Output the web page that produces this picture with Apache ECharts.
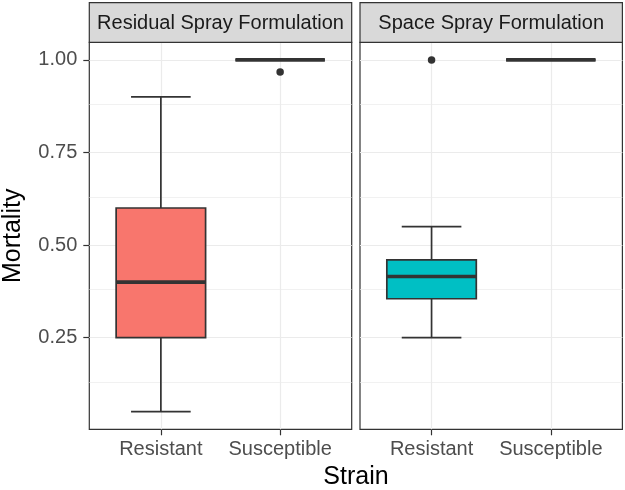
<!DOCTYPE html>
<html>
<head>
<meta charset="utf-8">
<script src="https://cdn.jsdelivr.net/npm/echarts@6/dist/echarts.min.js"></script>
<style>
  html, body { margin: 0; padding: 0; background: #fff; }
  #chart { width: 625px; height: 490px; }
</style>
</head>
<body>
<div id="chart"></div>
<script>
// 数据
const strains = ['Resistant', 'Susceptible'];
const formulations = ['Residual Spray Formulation', 'Space Spray Formulation'];
// [min, Q1, median, Q3, max] per strain
const residualStats = [[0.05, 0.25, 0.40, 0.60, 0.90], [1.0, 1.0, 1.0, 1.0, 1.0]];
const spaceStats = [[0.25, 0.355, 0.415, 0.46, 0.55], [1.0, 1.0, 1.0, 1.0, 1.0]];
// [strain position, value]
const residualOutliers = [[2, 0.967]];
const spaceOutliers = [[1, 1.0]];
const fillColors = ['#F8766D', '#00BFC4'];
const yTicks = [0.25, 0.50, 0.75, 1.00];
const yMinor = [0.125, 0.375, 0.625, 0.875];
const xTicks = [1, 2];

// 面板布局
const panelTop = 42.3, panelBottom = 429.3;
const panelW = 262.4;
const panelLefts = [89.3, 360.0];
const edge = '#333333';
const font = '"Liberation Sans", Arial, sans-serif';

// y 范围: 数据范围扩展 5%
const yLo = 0.05, yHi = 1.0;
const yPad = (yHi - yLo) * 0.05;

function makeRenderer(fill) {
    return function (params, api) {
        const x = api.value(0);
        const pt = v => api.coord([x, v]);
        const lo = pt(api.value(1)), q1 = pt(api.value(2)), med = pt(api.value(3)),
              q3 = pt(api.value(4)), hi = pt(api.value(5));
        const boxW = api.size([0.75, 0])[0];
        const capW = api.size([0.5, 0])[0];
        const cx = lo[0];
        const ls = { stroke: edge, lineWidth: 1.7 };
        return {
            type: 'group',
            children: [
                { type: 'line', shape: { x1: cx, y1: q1[1], x2: cx, y2: lo[1] }, style: ls },
                { type: 'line', shape: { x1: cx, y1: q3[1], x2: cx, y2: hi[1] }, style: ls },
                { type: 'line', shape: { x1: cx - capW / 2, y1: lo[1], x2: cx + capW / 2, y2: lo[1] }, style: ls },
                { type: 'line', shape: { x1: cx - capW / 2, y1: hi[1], x2: cx + capW / 2, y2: hi[1] }, style: ls },
                { type: 'rect', shape: { x: cx - boxW / 2, y: q3[1], width: boxW, height: q1[1] - q3[1] },
                  style: { fill: fill, stroke: edge, lineWidth: 1.7 } },
                { type: 'line', shape: { x1: cx - boxW / 2, y1: med[1], x2: cx + boxW / 2, y2: med[1] },
                  style: { stroke: edge, lineWidth: 3.6 } }
            ]
        };
    };
}

function gridLines() {
    const d = [];
    yMinor.forEach(v => d.push({ yAxis: v, lineStyle: { color: '#EBEBEB', width: 0.7, type: 'solid' } }));
    yTicks.forEach(v => d.push({ yAxis: v, lineStyle: { color: '#EBEBEB', width: 1.2, type: 'solid' } }));
    xTicks.forEach(v => d.push({ xAxis: v, lineStyle: { color: '#EBEBEB', width: 1.2, type: 'solid' } }));
    return d;
}

const chart = echarts.init(document.getElementById('chart'));

const grids = panelLefts.map(l => ({
    left: l, top: panelTop, width: panelW, height: panelBottom - panelTop,
    show: true, backgroundColor: 'transparent', borderColor: edge, borderWidth: 1.2
}));

const xAxes = panelLefts.map((l, i) => ({
    type: 'value', gridIndex: i, min: 0.4, max: 2.6,
    axisLine: { show: false },
    axisTick: { show: true, customValues: xTicks, length: 6, lineStyle: { color: edge, width: 1.2 } },
    axisLabel: {
        customValues: xTicks, margin: 10, color: '#4D4D4D', fontSize: 20, fontFamily: font,
        formatter: v => strains[Math.round(v) - 1]
    },
    splitLine: { show: false }
}));

const yAxes = panelLefts.map((l, i) => ({
    type: 'value', gridIndex: i, min: yLo - yPad, max: yHi + yPad,
    axisLine: { show: false },
    axisTick: { show: i === 0, customValues: yTicks, length: 6, lineStyle: { color: edge, width: 1.2 } },
    axisLabel: {
        show: i === 0, customValues: yTicks, margin: 12, color: '#4D4D4D', fontSize: 20, fontFamily: font,
        formatter: v => v.toFixed(2)
    },
    splitLine: { show: false }
}));

const statsList = [residualStats, spaceStats];
const outlierList = [residualOutliers, spaceOutliers];
const series = [];
statsList.forEach((stats, i) => {
    series.push({
        type: 'line', xAxisIndex: i, yAxisIndex: i, data: [], z: 1,
        markLine: { silent: true, z: 1, symbol: 'none', label: { show: false }, data: gridLines() }
    });
    series.push({
        type: 'custom', xAxisIndex: i, yAxisIndex: i, z: 3,
        renderItem: makeRenderer(fillColors[i]),
        encode: { x: 0, y: [1, 2, 3, 4, 5] },
        data: stats.map((s, k) => [xTicks[k]].concat(s))
    });
    series.push({
        type: 'scatter', xAxisIndex: i, yAxisIndex: i, z: 4,
        symbolSize: 7.5, itemStyle: { color: edge, opacity: 1 },
        data: outlierList[i]
    });
});

const graphics = [];
panelLefts.forEach((l, i) => {
    graphics.push({
        type: 'rect', shape: { x: l, y: 2.7, width: panelW, height: panelTop - 2.7 },
        style: { fill: '#D9D9D9', stroke: edge, lineWidth: 1.2 }, z: 10
    });
    graphics.push({
        type: 'text', x: l + panelW / 2, y: (2.7 + panelTop) / 2 + 1, z: 11,
        style: { text: formulations[i], fill: '#1A1A1A', font: '20px ' + font, align: 'center', verticalAlign: 'middle' }
    });
});
graphics.push({
    type: 'text', x: 356, y: 477, z: 11,
    style: { text: 'Strain', fill: '#000', font: '25px ' + font, align: 'center', verticalAlign: 'middle' }
});
graphics.push({
    type: 'text', x: 13, y: (panelTop + panelBottom) / 2, rotation: Math.PI / 2, z: 11,
    style: { text: 'Mortality', fill: '#000', font: '25px ' + font, align: 'center', verticalAlign: 'middle' }
});

chart.setOption({
    animation: false,
    grid: grids,
    xAxis: xAxes,
    yAxis: yAxes,
    series: series,
    graphic: graphics
});
</script>
</body>
</html>
